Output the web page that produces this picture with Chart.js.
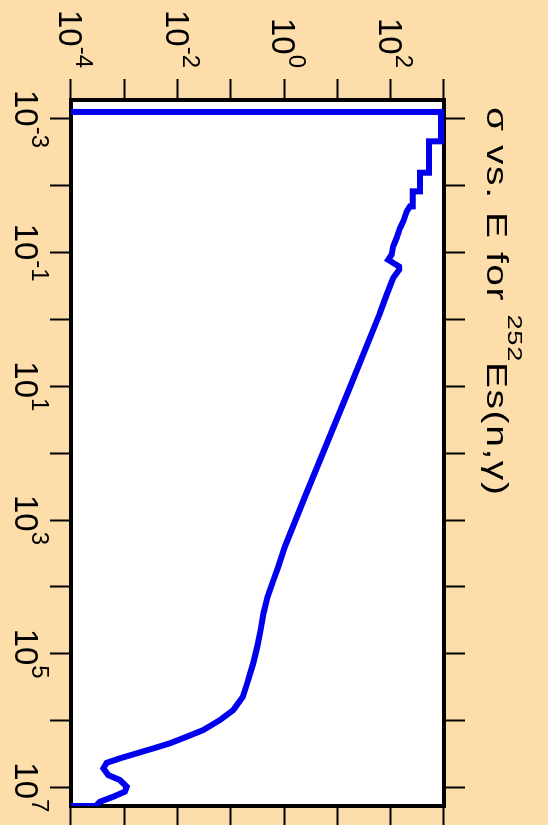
<!DOCTYPE html>
<html>
<head>
    <title>σ vs. E for 252Es(n,γ)</title>
    <meta charset="UTF-8">
    <script src="https://cdn.jsdelivr.net/npm/chart.js"></script>
    <style>
        html, body {
            margin: 0;
            padding: 0;
            background: rgb(253, 222, 170);
            overflow: hidden;
        }
        /* the plot is drawn landscape and turned a quarter clockwise */
        #wrap {
            position: absolute;
            left: 0;
            top: 0;
            width: 825px;
            height: 548px;
            transform-origin: 0 0;
            transform: translate(548px, 0) rotate(90deg);
        }
    </style>
</head>
<body>
<div id="wrap"><canvas id="sigma_chart" width="825" height="548"></canvas></div>
<script>
    // neutron energy (eV) and capture cross section (b)
    var energy = [
        7.85e-4, 7.85e-4, 2.16e-3, 2.16e-3, 6.37e-3, 6.37e-3, 1.21e-2, 1.21e-2, 2.03e-2,
        2.03e-2, 2.42e-2, 3.41e-2, 4.29e-2, 6.04e-2, 8.07e-2, 0.107, 0.128, 0.161, 0.180,
        0.240, 0.427, 0.802, 11.3, 451, 2500, 5200, 7890, 1.40e4, 2.48e4, 4.42e4, 7.85e4,
        1.39e5, 2.48e5, 4.41e5, 6.97e5, 9.84e5, 1.39e6, 1.75e6, 2.19e6, 2.61e6, 3.10e6,
        3.68e6, 4.29e6, 5.20e6, 6.55e6, 7.78e6, 9.79e6, 1.16e7, 1.38e7, 1.64e7, 1.84e7,
        1.9e7, 1.9e7
    ];
    var sigma = [
        1e-5, 875, 875, 521, 521, 353, 353, 258, 258,
        229, 199, 172, 149, 129, 111, 104, 89.7, 143, 144,
        111, 83.8, 62.7, 16.4, 2.45, 1.035, 0.76, 0.63, 0.49, 0.41, 0.362, 0.313,
        0.263, 0.212, 0.168, 0.111, 0.0624, 0.0303, 0.0148, 0.00719, 0.00350, 0.00171,
        8.30e-4, 4.68e-4, 4.04e-4, 5.01e-4, 8.30e-4, 1.11e-3, 1.03e-3, 6.22e-4, 3.50e-4, 3.03e-4,
        2.9e-4, 1e-5
    ];

    // axis ticks: a mark every decade, a label every second one
    var energyTicks = [1e-3, 1e-2, 1e-1, 1e0, 1e1, 1e2, 1e3, 1e4, 1e5, 1e6, 1e7];
    var energyLabelTicks = [1e-3, 1e-1, 1e1, 1e3, 1e5, 1e7];
    var energyLabelExp = ['-3', '-1', '1', '3', '5', '7'];
    var sigmaTicks = [1e-4, 1e-3, 1e-2, 1e-1, 1e0, 1e1, 1e2, 1e3];
    var sigmaLabelTicks = [1e-4, 1e-2, 1e0, 1e2];
    var sigmaLabelExp = ['-4', '-2', '0', '2'];

    var titleMain = 'σ vs. E for ';
    var titleSup = '252';
    var titleRest = 'Es(n,γ)';

    var FONT = '"Liberation Sans", Arial, Helvetica, sans-serif';
    var peach = 'rgb(253, 222, 170)';

    var points = [];
    for (var i = 0; i < energy.length; i++) {
        points.push({x: energy[i], y: sigma[i]});
    }

    function decadeTicks(list) {
        return function (scale) {
            scale.ticks = list.map(function (v) { return {value: v}; });
        };
    }

    var tickGrid = {
        drawOnChartArea: false,
        drawTicks: true,
        tickLength: 21,
        tickWidth: 2,
        tickColor: '#000'
    };

    // "10" with a raised exponent
    function powerLabel(ctx, exp, x, base, align) {
        ctx.font = '33px ' + FONT;
        var w1 = ctx.measureText('10').width;
        ctx.font = '24px ' + FONT;
        var w2 = ctx.measureText(exp).width;
        var left = align === 'right' ? x - w1 - w2 : x - (w1 + w2) / 2;
        ctx.textAlign = 'left';
        ctx.textBaseline = 'alphabetic';
        ctx.fillStyle = '#000';
        ctx.font = '33px ' + FONT;
        ctx.fillText('10', left, base);
        ctx.font = '24px ' + FONT;
        ctx.fillText(exp, left + w1, base - 17);
    }

    // text with a little room between the letters, returns where it ends
    function spaced(ctx, text, x, base, gap) {
        for (var k = 0; k < text.length; k++) {
            ctx.fillText(text[k], x, base);
            x += ctx.measureText(text[k]).width + gap;
        }
        return x;
    }

    var framePlugin = {
        id: 'frame',
        beforeDraw: function (chart) {
            var c = chart.ctx, a = chart.chartArea;
            c.save();
            c.fillStyle = peach;
            c.fillRect(0, 0, chart.width, chart.height);
            c.fillStyle = '#fff';
            c.fillRect(a.left, a.top, a.right - a.left, a.bottom - a.top);
            c.restore();
        },
        beforeDatasetsDraw: function (chart) {
            var c = chart.ctx, a = chart.chartArea;
            c.save();
            c.strokeStyle = '#000';
            c.lineWidth = 4;
            c.strokeRect(a.left, a.top, a.right - a.left, a.bottom - a.top);
            c.restore();
        },
        afterDraw: function (chart) {
            var c = chart.ctx;
            var xs = chart.scales.x, ys = chart.scales.y;
            c.save();
            energyLabelTicks.forEach(function (v, k) {
                powerLabel(c, energyLabelExp[k], xs.getPixelForValue(v), 533, 'center');
            });
            sigmaLabelTicks.forEach(function (v, k) {
                powerLabel(c, sigmaLabelExp[k], 68, ys.getPixelForValue(v) + 12, 'right');
            });
            c.restore();

            // title, a bit wider than the plain font
            var sx = 1.3, tb = 61;
            c.save();
            c.translate(107, 0);
            c.scale(sx, 1);
            c.fillStyle = '#000';
            c.textAlign = 'left';
            c.textBaseline = 'alphabetic';
            var tx = 0;
            c.font = '30px ' + FONT;
            tx = spaced(c, titleMain, tx, tb, 1.2);
            c.font = '21px ' + FONT;
            tx = spaced(c, titleSup, tx, tb - 21, 0.5);
            c.font = '30px ' + FONT;
            spaced(c, titleRest, tx, tb, 1.2);
            c.restore();
        }
    };

    var ctx = document.getElementById('sigma_chart').getContext('2d');
    var chart = new Chart(ctx, {
        type: 'scatter',
        data: {
            datasets: [{
                label: 'sigma',
                data: points,
                showLine: true,
                borderColor: '#0000EE',
                borderWidth: 6,
                borderJoinStyle: 'miter',
                borderCapStyle: 'butt',
                pointRadius: 0,
                tension: 0,
                fill: false
            }]
        },
        options: {
            responsive: false,
            animation: false,
            events: [],
            layout: { padding: 0 },
            plugins: {
                legend: { display: false },
                tooltip: { enabled: false }
            },
            scales: {
                x: {
                    type: 'logarithmic',
                    position: 'bottom',
                    min: 5.2e-4,
                    max: 1.9e7,
                    afterBuildTicks: decadeTicks(energyTicks),
                    afterFit: function (s) { s.height = 71; },
                    ticks: { display: false },
                    grid: tickGrid,
                    border: { display: false }
                },
                x2: {
                    type: 'logarithmic',
                    axis: 'x',
                    position: 'top',
                    min: 5.2e-4,
                    max: 1.9e7,
                    afterBuildTicks: decadeTicks(energyTicks),
                    afterFit: function (s) { s.height = 104; },
                    ticks: { display: false },
                    grid: tickGrid,
                    border: { display: false }
                },
                y: {
                    type: 'logarithmic',
                    position: 'left',
                    min: 1e-4,
                    max: 1e3,
                    afterBuildTicks: decadeTicks(sigmaTicks),
                    afterFit: function (s) { s.width = 100; },
                    ticks: { display: false },
                    grid: tickGrid,
                    border: { display: false }
                },
                y2: {
                    type: 'logarithmic',
                    axis: 'y',
                    position: 'right',
                    min: 1e-4,
                    max: 1e3,
                    afterBuildTicks: decadeTicks(sigmaTicks),
                    afterFit: function (s) { s.width = 19; },
                    ticks: { display: false },
                    grid: tickGrid,
                    border: { display: false }
                }
            }
        },
        plugins: [framePlugin]
    });
</script>
</body>
</html>
